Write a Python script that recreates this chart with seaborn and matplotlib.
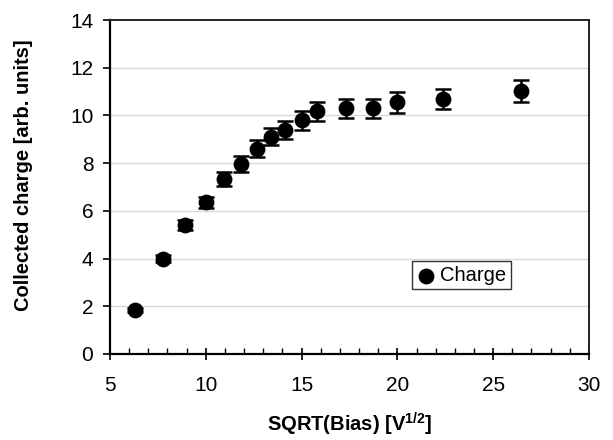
import matplotlib
matplotlib.use("Agg")
import matplotlib.pyplot as plt
from matplotlib.ticker import MultipleLocator
import numpy as np
import pandas as pd
import seaborn as sns

# Square root of the bias voltage [V^1/2]
sqrt_bias = [6.32, 7.75, 8.94, 10.0, 10.95, 11.83, 12.65, 13.42, 14.14,
             15.0, 15.81, 17.32, 18.71, 20.0, 22.36, 26.46]
# Collected charge [arb. units]
charge = [1.84, 4.0, 5.40, 6.36, 7.33, 7.96, 8.60, 9.10, 9.38,
          9.80, 10.17, 10.30, 10.31, 10.55, 10.70, 11.02]
# Uncertainty on the collected charge
charge_err = [0.10, 0.15, 0.20, 0.22, 0.30, 0.34, 0.35, 0.36, 0.38,
              0.40, 0.40, 0.41, 0.40, 0.43, 0.42, 0.45]

df = pd.DataFrame({"sqrt_bias": sqrt_bias, "charge": charge, "err": charge_err})

sns.set_style("white")
plt.rcParams["font.family"] = ["Liberation Sans", "DejaVu Sans"]
plt.rcParams["mathtext.fontset"] = "custom"
plt.rcParams["mathtext.bf"] = "Liberation Sans:bold"
plt.rcParams["mathtext.rm"] = "Liberation Sans"
for key in ["text.color", "axes.labelcolor", "xtick.color", "ytick.color"]:
    plt.rcParams[key] = "black"

fig = plt.figure(figsize=(6.13, 4.40), dpi=100)
ax = fig.add_axes([0.1794, 0.1955, 0.7814, 0.7590])

ax.errorbar(df["sqrt_bias"], df["charge"], yerr=df["err"], fmt="none",
            ecolor="black", elinewidth=1.8, capsize=5.5, capthick=1.8, zorder=2)
sns.scatterplot(data=df, x="sqrt_bias", y="charge", ax=ax, s=130, color="black",
                edgecolor="black", linewidth=0, marker="o", label="Charge", zorder=3)

ax.set_xlim(5, 30)
ax.set_ylim(0, 14)
ax.xaxis.set_major_locator(MultipleLocator(5))
ax.xaxis.set_minor_locator(MultipleLocator(1))
ax.yaxis.set_major_locator(MultipleLocator(2))

for y in range(2, 14, 2):
    ax.axhline(y, color="#d9d9d9", lw=1.0, zorder=0)

for side in ["left", "bottom"]:
    ax.spines[side].set_color("black")
    ax.spines[side].set_linewidth(1.6)
for side in ["top", "right"]:
    ax.spines[side].set_color("#222222")
    ax.spines[side].set_linewidth(1.4)

ax.tick_params(axis="y", which="major", direction="out", length=5, width=1.2,
               labelsize=15, pad=7, left=True)
ax.tick_params(axis="x", which="major", direction="inout", length=9, width=1.2,
               labelsize=15, pad=11, bottom=True)
ax.tick_params(axis="x", which="minor", direction="in", length=4, width=1.0,
               bottom=True)

ax.set_xlabel(r"SQRT(Bias) [V$^{\mathbf{1/2}}$]", fontsize=14.5, fontweight="bold")
ax.set_ylabel("Collected charge [arb. units]", fontsize=14.5, fontweight="bold")
ax.xaxis.set_label_coords(0.501, -0.17)
ax.yaxis.set_label_coords(-0.161, 0.536)

leg = ax.legend(loc="upper left", bbox_to_anchor=(0.63, 0.277), borderaxespad=0,
                fancybox=False, frameon=True, fontsize=14.5, handletextpad=0.2,
                handlelength=1.0, borderpad=0.22, markerscale=1.0)
leg.get_frame().set_edgecolor("black")
leg.get_frame().set_linewidth(1.0)

fig.savefig("out.png", dpi=100)
